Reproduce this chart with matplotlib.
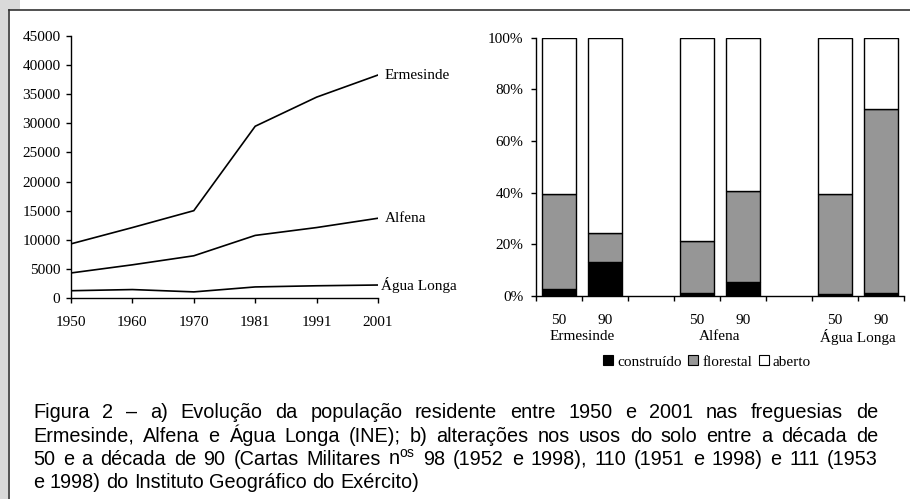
import matplotlib
matplotlib.use("Agg")
import matplotlib.pyplot as plt
from matplotlib.patches import Rectangle, Patch
from matplotlib.lines import Line2D
from matplotlib.transforms import blended_transform_factory

# ---------------- data ----------------
years = ["1950", "1960", "1970", "1981", "1991", "2001"]
ermesinde = [9300, 12100, 15000, 29500, 34500, 38300]
alfena = [4300, 5700, 7250, 10750, 12100, 13700]
agua_longa = [1250, 1450, 1050, 1900, 2100, 2230]
series_names = ["Ermesinde", "Alfena", "Água Longa"]

groups = ["Ermesinde", "Alfena", "Água Longa"]
decades = ["50", "90"]
construido = [2.8, 13.2, 1.3, 5.4, 0.8, 1.2]
florestal = [36.6, 11.1, 19.9, 35.2, 38.6, 71.3]
aberto = [100 - c - f for c, f in zip(construido, florestal)]
legend_labels = ["construído", "florestal", "aberto"]

caption_lines = [
    "Figura 2 – a) Evolução da população residente entre 1950 e 2001 nas freguesias de",
    "Ermesinde, Alfena e Água Longa (INE); b) alterações nos usos do solo entre a década de",
    r"50 e a década de 90 (Cartas Militares $\mathregular{n^{os}}$ 98 (1952 e 1998), 110 (1951 e 1998) e 111 (1953",
    "e 1998) do Instituto Geográfico do Exército)",
]

# ---------------- figure ----------------
W, H = 910, 499
fig = plt.figure(figsize=(W / 100, H / 100), dpi=100)
fig.patch.set_facecolor("white")

SERIF = "Liberation Serif"
SANS = "Liberation Sans"
FS = 11

def fx(px):
    return px / W

def fy(py):
    return 1 - py / H

# frame decorations
fig.patches.append(Rectangle((0, 0), fx(8), 1, transform=fig.transFigure,
                             facecolor="#d9d9d9", edgecolor="none", zorder=0))
fig.patches.append(Rectangle((0, fy(10)), fx(20), 1 - fy(10), transform=fig.transFigure,
                             facecolor="#d9d9d9", edgecolor="none", zorder=0))
fig.lines.append(Line2D([fx(8.5), fx(8.5)], [0, fy(10)], transform=fig.transFigure,
                        color="#333333", lw=1.2))
fig.lines.append(Line2D([fx(8.5), 1], [fy(10), fy(10)], transform=fig.transFigure,
                        color="#333333", lw=1.2))

# ---------------- left: population lines ----------------
axL = fig.add_axes([fx(71), fy(298), fx(378 - 71), (298 - 36) / H])
xs = list(range(len(years)))
offsets = [7, 7, 3]
for vals, name, off in zip([ermesinde, alfena, agua_longa], series_names, offsets):
    axL.plot(xs, vals, color="black", lw=1.2, solid_joinstyle="miter")
    axL.annotate(name, (xs[-1], vals[-1]), xytext=(off, 0), textcoords="offset pixels",
                 va="center", ha="left", fontsize=FS, family=SERIF, annotation_clip=False)
axL.set_xlim(0, len(years) - 1)
axL.set_ylim(0, 45000)
axL.set_yticks(range(0, 45001, 5000))
axL.set_yticklabels([str(v) for v in range(0, 45001, 5000)])
axL.set_xticks(xs)
axL.set_xticklabels(years)
for s in ["top", "right"]:
    axL.spines[s].set_visible(False)
for s in ["left", "bottom"]:
    axL.spines[s].set_linewidth(1.0)
axL.tick_params(axis="y", direction="out", length=3.6, width=1.0, pad=4.0)
axL.tick_params(axis="x", direction="out", length=3.6, width=1.0, pad=9.5)
for lab in axL.get_xticklabels() + axL.get_yticklabels():
    lab.set_fontfamily(SERIF)
    lab.set_fontsize(FS)

# ---------------- right: stacked bars ----------------
axR = fig.add_axes([fx(536), fy(296), fx(904 - 536), (296 - 37.7) / H])
positions = []
for gi in range(len(groups)):
    for di in range(len(decades)):
        positions.append(gi * 3 + di)
bw = 0.72
bottoms2 = [c + f for c, f in zip(construido, florestal)]
axR.bar(positions, construido, width=bw, color="black", edgecolor="black", lw=1.0, zorder=3)
axR.bar(positions, florestal, width=bw, bottom=construido, color="#969696",
        edgecolor="black", lw=1.0, zorder=3)
axR.bar(positions, aberto, width=bw, bottom=bottoms2, color="white",
        edgecolor="black", lw=1.0, zorder=3)
n_cat = len(groups) * 3 - 1
axR.set_xlim(-0.5, n_cat - 0.5)
axR.set_ylim(0, 100)
axR.set_yticks(range(0, 101, 20))
axR.set_yticklabels([f"{v}%" for v in range(0, 101, 20)])
axR.set_xticks([i - 0.5 for i in range(n_cat + 1)])
axR.set_xticklabels([])
for s in ["top", "right"]:
    axR.spines[s].set_visible(False)
for s in ["left", "bottom"]:
    axR.spines[s].set_linewidth(1.0)
axR.tick_params(axis="y", direction="out", length=3.6, width=1.0, pad=5.5)
axR.tick_params(axis="x", direction="out", length=3.6, width=1.0)
for lab in axR.get_yticklabels():
    lab.set_fontfamily(SERIF)
    lab.set_fontsize(FS)

trR = blended_transform_factory(axR.transData, axR.transAxes)
ax_h = 296 - 37.7
for gi, g in enumerate(groups):
    for di, d in enumerate(decades):
        axR.text(gi * 3 + di, -(320 - 296) / ax_h, d, transform=trR, ha="center",
                 va="center", fontsize=FS, family=SERIF)
    axR.text(gi * 3 + 0.5, -(337 - 296) / ax_h, g, transform=trR, ha="center",
             va="center", fontsize=FS, family=SERIF)

handles = [Patch(facecolor="black", edgecolor="black", lw=0.8),
           Patch(facecolor="#969696", edgecolor="black", lw=0.8),
           Patch(facecolor="white", edgecolor="black", lw=0.8)]
fig.legend(handles, legend_labels, loc="center", bbox_to_anchor=(fx(707), fy(362)),
           ncol=3, frameon=False, handlelength=0.65, handleheight=0.65,
           handletextpad=0.25, columnspacing=0.45, borderpad=0,
           prop={"family": SERIF, "size": FS})

# ---------------- caption (justified) ----------------
CAP_FS = 14.3
fig.canvas.draw()
renderer = fig.canvas.get_renderer()

def text_width(s):
    t = fig.text(0, 0, s, fontsize=CAP_FS, family=SANS)
    w = t.get_window_extent(renderer).width
    t.remove()
    return w

space_w = text_width("a a") - text_width("aa")
x_left, x_right = 33, 878
baselines = [418, 441.5, 465, 488.5]
for li, (line, base) in enumerate(zip(caption_lines, baselines)):
    words = line.split(" ")
    widths = [text_width(w) for w in words]
    if li < len(caption_lines) - 1 and len(words) > 1:
        gap = (x_right - x_left - sum(widths)) / (len(words) - 1)
    else:
        gap = space_w
    x = x_left
    for w, wd in zip(words, widths):
        fig.text(fx(x), fy(base), w, fontsize=CAP_FS, family=SANS, ha="left", va="baseline")
        x += wd + gap

fig.savefig("out.png", dpi=100)
